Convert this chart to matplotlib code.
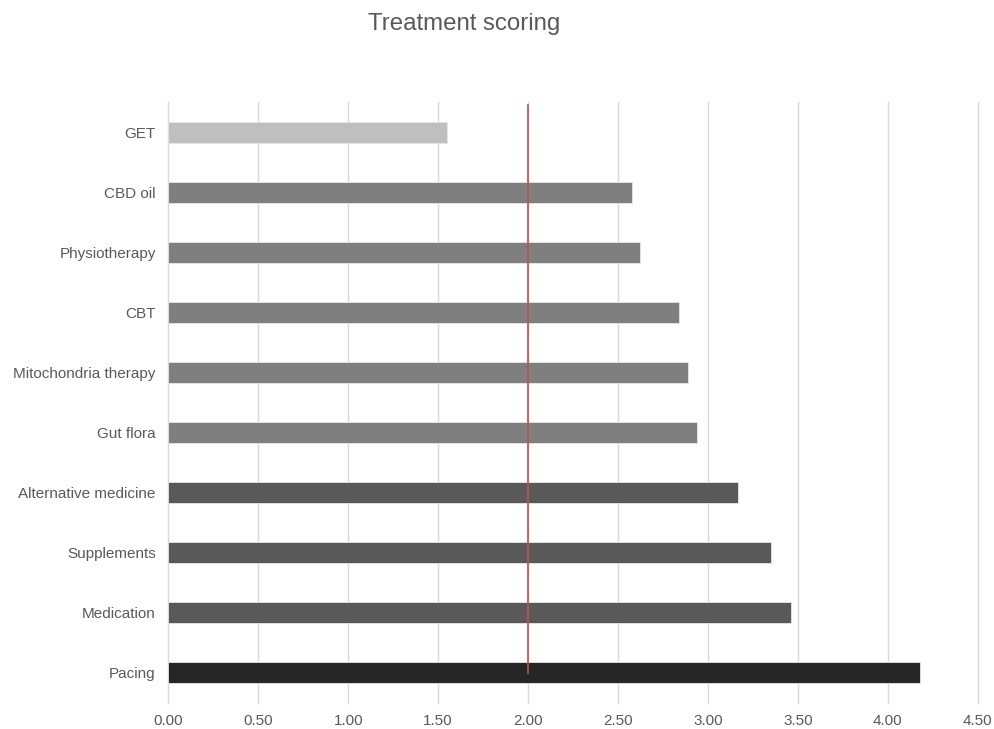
import matplotlib.pyplot as plt

# Treatment scores, listed bottom to top
treatments = ["Pacing", "Medication", "Supplements", "Alternative medicine",
              "Gut flora", "Mitochondria therapy", "CBT", "Physiotherapy",
              "CBD oil", "GET"]
scores = [4.18, 3.46, 3.35, 3.17, 2.94, 2.89, 2.84, 2.62, 2.58, 1.55]
bar_colors = ["#262626", "#595959", "#595959", "#595959",
              "#7f7f7f", "#7f7f7f", "#7f7f7f", "#7f7f7f", "#7f7f7f",
              "#bfbfbf"]
threshold = 2.0
xticks = [0, 0.5, 1.0, 1.5, 2.0, 2.5, 3.0, 3.5, 4.0, 4.5]

plt.rcParams['font.family'] = ['Liberation Sans', 'DejaVu Sans']

fig = plt.figure(figsize=(9.95, 7.29), dpi=100)
ax = fig.add_axes([0.1692, 0.0357, 0.8134, 0.8243])

ypos = list(range(len(treatments)))
ax.barh(ypos, scores, height=0.35, color=bar_colors,
        edgecolor="#e6e6e6", linewidth=0.6, zorder=2)

# reference line at 2.00
ax.plot([threshold, threshold], [0, len(treatments) - 0.55],
        color="#c0504d", linewidth=1.2, zorder=3)

ax.set_xlim(0, 4.5)
ax.set_ylim(-0.5, len(treatments) - 0.5)
ax.set_xticks(xticks)
ax.set_xticklabels([f"{v:.2f}" for v in xticks])
ax.set_yticks(ypos)
ax.set_yticklabels(treatments)

ax.grid(axis="x", color="#d9d9d9", linewidth=1.0, zorder=0)
ax.set_axisbelow(True)
# keep the gridline at 4.50 whole on the right edge
for gl in ax.get_xgridlines():
    gl.set_clip_on(False)
for side in ax.spines.values():
    side.set_visible(False)
ax.tick_params(axis="both", length=0, labelsize=11, labelcolor="#595959")
ax.tick_params(axis="x", pad=8)
ax.tick_params(axis="y", pad=9)

fig.text(0.4668, 0.9588, "Treatment scoring", ha="center", va="baseline",
         fontsize=17.3, color="#595959")

fig.savefig("out.png", dpi=100)
